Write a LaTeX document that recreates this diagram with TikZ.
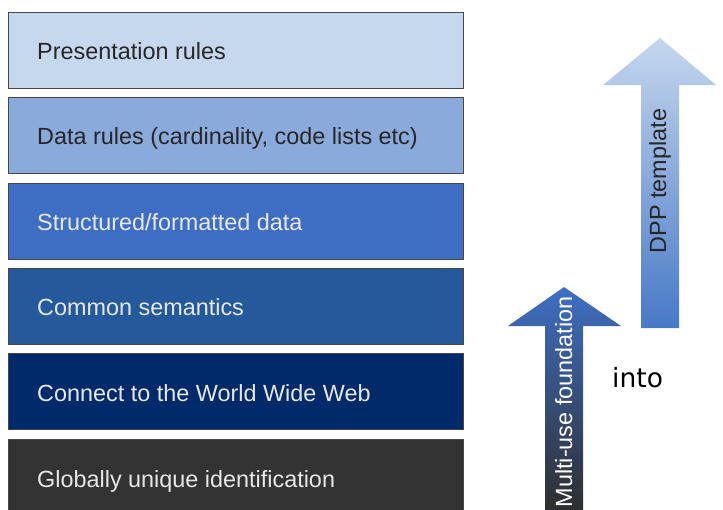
\documentclass[tikz,border=0pt]{standalone}
\usepackage{fontspec}
\setmainfont{Liberation Sans}
\newfontfamily\dvs{DejaVu Sans}
\definecolor{cA}{HTML}{C6D8EE}
\definecolor{cB}{HTML}{8AAADC}
\definecolor{cC}{HTML}{3E6EC3}
\definecolor{cD}{HTML}{245A9C}
\definecolor{cE}{HTML}{002A6A}
\definecolor{cF}{HTML}{333333}
\definecolor{txtdark}{HTML}{262626}
\definecolor{txtlight}{HTML}{E8E8E8}
\definecolor{arrAtop}{HTML}{C5D7EE}
\definecolor{arrAbot}{HTML}{4779C6}
\definecolor{arrBtop}{HTML}{3F6FC4}
\definecolor{arrBbot}{HTML}{2E2E2E}
\begin{document}
\begin{tikzpicture}[x=1pt,y=-1pt,
  layerbox/.style={draw=black!72, line width=1.2pt, minimum width=455pt, minimum height=76pt, inner sep=0pt, anchor=north west},
  lbl/.style={anchor=base west, font=\fontsize{23.4}{28}\selectfont, inner sep=0pt},
  arrlbl/.style={anchor=base, rotate=90, font=\fontsize{23.4}{28}\selectfont, inner sep=0pt}]
\useasboundingbox (0,0) rectangle (723,509);
\clip (0,0) rectangle (723,509);
% layers
\node[layerbox, fill=cA] (l1) at (8,12) {};
\node[layerbox, fill=cB] (l2) at (8,97) {};
\node[layerbox, fill=cC] (l3) at (8,183) {};
\node[layerbox, fill=cD] (l4) at (8,268) {};
\node[layerbox, fill=cE] (l5) at (8,353) {};
\node[layerbox, fill=cF] (l6) at (8,439) {};
\node[lbl, text=txtdark]  (t1) at (37,59)  {Presentation rules};
\node[lbl, text=txtdark]  (t2) at (37,144) {Data rules (cardinality, code lists etc)};
\node[lbl, text=txtlight] (t3) at (37,230) {Structured/formatted data};
\node[lbl, text=txtlight] (t4) at (37,315) {Common semantics};
\node[lbl, text=txtlight] (t5) at (37,401) {Connect to the World Wide Web};
\node[lbl, text=txtlight] (t6) at (37,487) {Globally unique identification};
% arrows
\shade[top color=arrAtop, bottom color=arrAbot]
  (660,38) -- (716,85) -- (679,85) -- (679,328) -- (641,328) -- (641,85) -- (603,85) -- cycle;
\shade[top color=arrBtop, bottom color=arrBbot]
  (564,287) -- (621,326) -- (583,326) -- (583,512) -- (545,512) -- (545,326) -- (508,326) -- cycle;
\node[arrlbl, text=txtdark] (dpp) at (666,181) {DPP template};
\node[arrlbl, text=white] (mu) at (572,402) {Multi-use foundation};
\node[anchor=base west, inner sep=0pt, font=\dvs\fontsize{26.5}{31}\selectfont] (into) at (612,387) {into};
\end{tikzpicture}
\end{document}
